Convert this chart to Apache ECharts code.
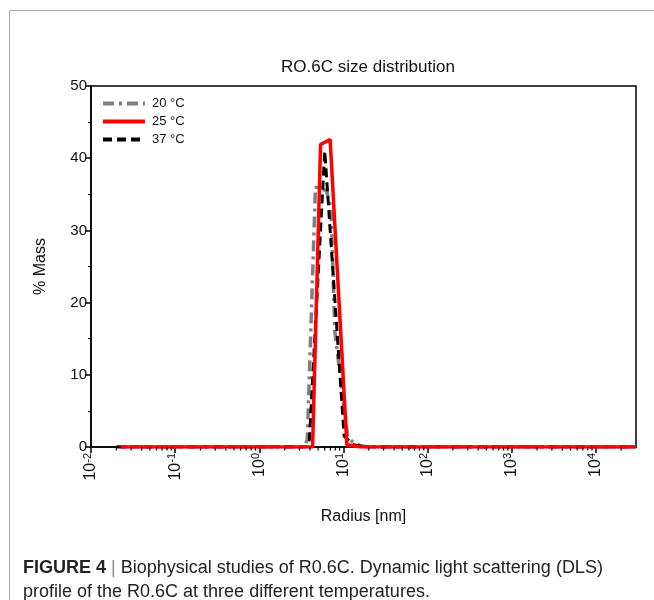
<!DOCTYPE html>
<html>
<head>
<meta charset="utf-8">
<script src="https://cdn.jsdelivr.net/npm/echarts@6/dist/echarts.min.js"></script>
<style>
html,body{margin:0;padding:0;background:#fff;}
#chart{width:654px;height:600px;}
</style>
</head>
<body>
<div id="chart"></div>
<script>
// ---- data ----
const seriesNames = ['20 °C', '25 °C', '37 °C'];
const radius20 = [0.02, 3.39, 3.72, 4.65, 6.3, 7.13, 7.9, 11.2, 12.6, 15.8, 20, 30000];
const mass20   = [0,    0,    1,    36,   35.5, 33,  16,  1.5,  0.8,  0.2,  0,  0];
const radius25 = [0.0225, 4.3, 5.35, 6.95, 11.0, 15.9, 30000];
const mass25   = [0,      0,   41.9, 42.6, 0.3,  0,    0];
const radius37 = [0.02, 3.55, 3.94, 6.0, 10.2, 13.2, 17.8, 30000];
const mass37   = [0,    0,    1,    41,  1.5,  0.3,  0,    0];
const xMinorTicks = [0.02,0.03,0.04,0.05,0.06,0.07,0.08,0.09,
  0.2,0.3,0.4,0.5,0.6,0.7,0.8,0.9,
  2,3,4,5,6,7,8,9,
  20,30,40,50,60,70,80,90,
  200,300,400,500,600,700,800,900,
  2000,3000,4000,5000,6000,7000,8000,9000,
  20000];
const yTicks = [0, 10, 20, 30, 40, 50];

function pairs(xs, ys){ return xs.map((x,i)=>[x, ys[i]]); }

const chart = echarts.init(document.getElementById('chart'), null, {renderer:'canvas'});
const font = '"Liberation Sans", Arial, sans-serif';

chart.setOption({
  backgroundColor: '#fff',
  animation: false,
  title: {
    text: 'RO.6C size distribution',
    left: 363, top: 54, textAlign: 'center',
    textStyle: {fontFamily: font, fontSize: 17, fontWeight: 'normal', color: '#111'}
  },
  legend: {
    orient: 'vertical',
    left: 101, top: 97,
    padding: 0,
    itemWidth: 42, itemHeight: 14, itemGap: 5,
    data: seriesNames,
    itemStyle: {opacity: 0},
    lineStyle: {width: 4},
    textStyle: {fontFamily: font, fontSize: 13, color: '#111', padding: [0,0,0,2]}
  },
  grid: {
    left: 91, right: 18, top: 86, bottom: 153,
    show: true, borderColor: '#000', borderWidth: 1.5
  },
  xAxis: {
    type: 'log', logBase: 10, min: 0.01, max: 30000,
    name: 'Radius [nm]', nameLocation: 'middle', nameGap: 62,
    nameTextStyle: {fontFamily: font, fontSize: 16, color: '#111'},
    axisLine: {lineStyle: {color: '#000', width: 1.5}},
    axisTick: {show: true, inside: false, length: 6, lineStyle: {color: '#000', width: 1.5}},
    splitLine: {show: false},
    minorTick: {show: false},
    axisLabel: {
      rotate: 90, margin: 6, showMaxLabel: false,
      fontFamily: font, color: '#111',
      formatter: function(v){
        const e = Math.round(Math.log10(v));
        if (Math.abs(Math.pow(10, e) - v) / v > 1e-6) return '';
        return '{b|10}{s|' + e + '}';
      },
      rich: {
        b: {fontFamily: font, fontSize: 16, color: '#111'},
        s: {fontFamily: font, fontSize: 11, color: '#111', verticalAlign: 'top', padding: [0,0,7,0]}
      }
    }
  },
  yAxis: {
    type: 'value', min: 0, max: 50, interval: 10,
    name: '% Mass', nameLocation: 'middle', nameGap: 42,
    nameTextStyle: {fontFamily: font, fontSize: 16, color: '#111'},
    axisLine: {show: true, lineStyle: {color: '#000', width: 1.5}},
    axisTick: {show: true, inside: false, length: 6, lineStyle: {color: '#000', width: 1.5}},
    minorTick: {show: true, splitNumber: 2, length: 3, lineStyle: {color: '#000', width: 1.2}},
    splitLine: {show: false},
    axisLabel: {fontFamily: font, fontSize: 15, color: '#111', margin: 4,
      formatter: function(v){ return yTicks.indexOf(v) >= 0 ? String(v) : ''; }}
  },
  series: [
    {
      name: seriesNames[0], type: 'line', data: pairs(radius20, mass20),
      symbol: 'none', z: 2,
      lineStyle: {color: '#7f7f7f', width: 3.5, type: [11, 5, 3, 5]},
      itemStyle: {color: '#7f7f7f'}
    },
    {
      name: seriesNames[2], type: 'line', data: pairs(radius37, mass37),
      symbol: 'none', z: 3,
      lineStyle: {color: '#000', width: 3, type: [9, 5]},
      itemStyle: {color: '#000'}
    },
    {
      name: seriesNames[1], type: 'line', data: pairs(radius25, mass25),
      symbol: 'none', z: 4,
      lineStyle: {color: '#ff0000', width: 3.5, type: 'solid'},
      itemStyle: {color: '#ff0000'}
    },
    {
      type: 'custom', silent: true, clip: false, z: 5,
      data: xMinorTicks.map(v => [v, 0]),
      renderItem: function(params, api){
        const p = api.coord([api.value(0), 0]);
        return {type: 'line', shape: {x1: p[0], y1: p[1], x2: p[0], y2: p[1] + 3.5},
                style: {stroke: '#000', lineWidth: 1.2}};
      }
    }
  ],
  graphic: [
    {type: 'line', shape: {x1: 9.5, y1: 10.5, x2: 654, y2: 10.5}, style: {stroke: '#aaa', lineWidth: 1}},
    {type: 'line', shape: {x1: 9.5, y1: 10.5, x2: 9.5, y2: 600}, style: {stroke: '#aaa', lineWidth: 1}},
    {
      type: 'text', left: 23, top: 556,
      style: {
        text: '{b|FIGURE 4} {sep||} Biophysical studies of R0.6C. Dynamic light scattering (DLS)\nprofile of the R0.6C at three different temperatures.',
        fontFamily: font, fontSize: 18, fill: '#222', lineHeight: 24,
        rich: {
          b: {fontFamily: font, fontSize: 18, fontWeight: 'bold', fill: '#222'},
          sep: {fontFamily: font, fontSize: 18, fill: '#888'}
        }
      }
    }
  ]
});
</script>
</body>
</html>
